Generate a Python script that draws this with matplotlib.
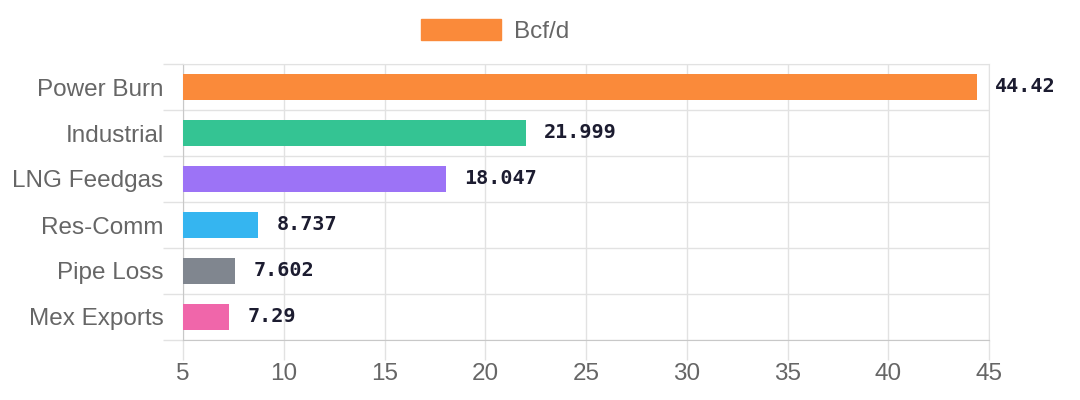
import numpy as np
from matplotlib import pyplot as plt
from matplotlib.patches import Patch

categories = ['Power Burn', 'Industrial', 'LNG Feedgas', 'Res-Comm', 'Pipe Loss', 'Mex Exports']
values     = [44.42, 21.999, 18.047, 8.737, 7.602, 7.29]
labels     = ['44.42', '21.999', '18.047', '8.737', '7.602', '7.29']
colors     = ['#fa8a3a', '#34c493', '#9c73f6', '#35b5f0', '#80868f', '#f066aa']
x_ticks    = [5, 10, 15, 20, 25, 30, 35, 40, 45]
series     = 'Bcf/d'

plt.rcParams['font.family'] = ['Liberation Sans', 'DejaVu Sans']

fig = plt.figure(figsize=(10.8, 4), dpi=100)
ax = fig.add_axes([183 / 1080, 1 - 340 / 400, (989 - 183) / 1080, (340 - 64) / 400])

y = np.arange(len(categories))
ax.barh(y, values, height=0.56, color=colors, zorder=3)

for yi, v, lab in zip(y, values, labels):
    ax.annotate(lab, (v, yi), xytext=(13, 0), textcoords='offset points',
                va='center', ha='left', fontsize=14.5, fontweight='bold',
                family='DejaVu Sans Mono', color='#1c1c30')

ax.set_xlim(5, 45)
ax.set_ylim(len(categories) - 0.5, -0.5)
ax.set_xticks(x_ticks)
ax.set_yticks(y)
ax.set_yticklabels(categories)
ax.set_yticks(np.arange(len(categories) + 1) - 0.5, minor=True)

ax.tick_params(axis='y', which='major', length=0, pad=14, labelsize=17.5, labelcolor='#666666')
ax.tick_params(axis='y', which='minor', length=14.4, width=1, color='#e2e2e2')
ax.tick_params(axis='x', which='major', length=14.4, width=1, color='#e2e2e2',
               pad=2, labelsize=17.5, labelcolor='#666666')

ax.grid(axis='x', which='major', color='#e2e2e2', linewidth=1, zorder=0)
ax.grid(axis='y', which='minor', color='#e2e2e2', linewidth=1, zorder=0)

for side in ['top', 'right']:
    ax.spines[side].set_color('#e2e2e2')
for side in ['left', 'bottom']:
    ax.spines[side].set_color('#c8c8c8')

fig.legend(handles=[Patch(color=colors[0], label=series)], loc='center',
           bbox_to_anchor=(495 / 1080, 1 - 31 / 400), frameon=False,
           fontsize=17.5, labelcolor='#666666', handlelength=3.3, handleheight=0.95,
           handletextpad=0.5)

fig.savefig('out.png')
